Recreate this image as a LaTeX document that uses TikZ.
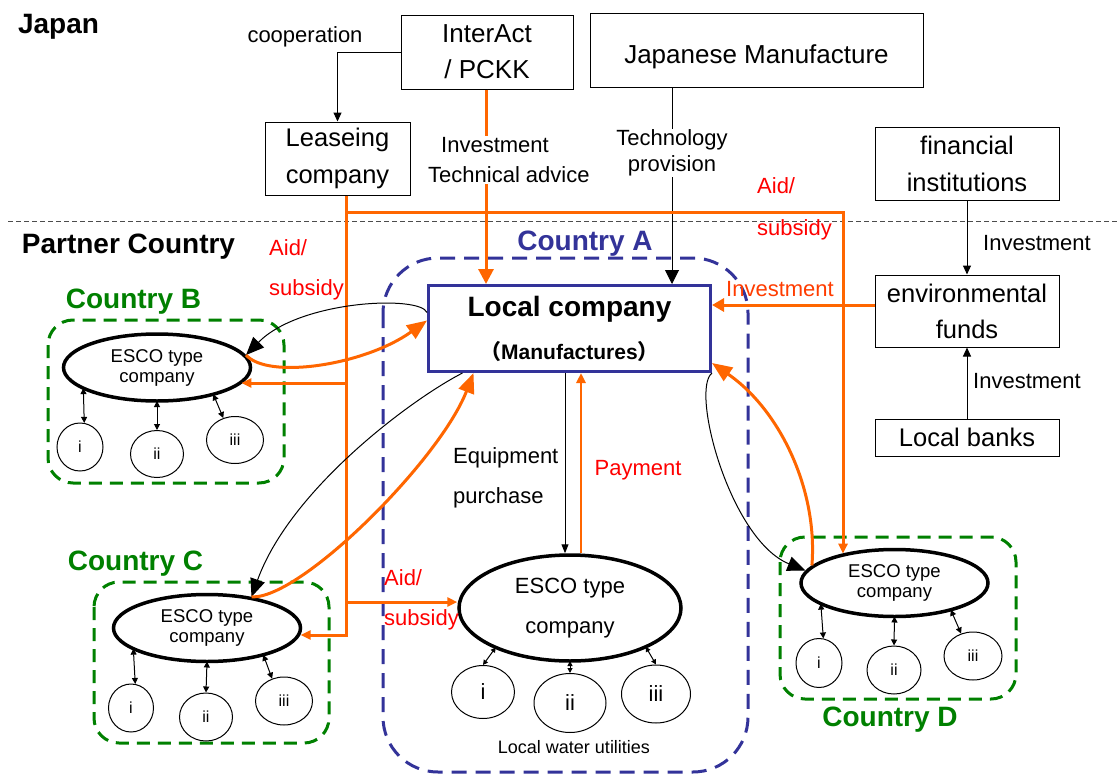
\documentclass[tikz,border=0pt]{standalone}
\usepackage{fontspec}
\setmainfont{Liberation Sans}
\newfontfamily\cjkf{Noto Sans CJK JP}
\usetikzlibrary{arrows.meta,shapes.geometric,calc}
\definecolor{org}{RGB}{255,102,0}
\definecolor{ired}{RGB}{255,0,0}
\definecolor{invc}{RGB}{255,60,0}
\definecolor{cblue}{RGB}{51,51,153}
\definecolor{cgreen}{RGB}{0,128,0}
\newcommand\fz[2]{\fontsize{#1}{#2}\selectfont}
\begin{document}
\begin{tikzpicture}[x=1pt,y=-1pt,
  box/.style={draw, line width=1pt, inner sep=0pt, align=center, font=\fz{25.5}{37}},
  esco/.style={ellipse, draw, line width=3.5pt, inner sep=0pt, align=center, minimum width=187pt, minimum height=67pt, font=\fz{18.5}{20}},
  subc/.style={ellipse, draw, line width=1pt, inner sep=0pt, font=\fz{16}{18}},
  bsubc/.style={subc, font=\fz{22}{24}},
  lbl/.style={inner sep=1pt, font=\fz{22}{26}},
  ttl/.style={inner sep=0pt, font=\fz{28}{30}\bfseries},
  grp/.style={draw=cgreen, line width=3pt, dash pattern=on 13pt off 8pt, rounded corners=25pt},
  kar/.style={line width=1pt, -{Triangle[length=9pt,width=8pt]}},
  dar/.style={line width=1pt, >={Triangle[length=6pt,width=6pt]}, <->},
  sdar/.style={line width=1pt, >={Triangle[length=5pt,width=5pt]}, <->},
  oln/.style={draw=org, line width=3pt, -{Triangle[length=10pt,width=9pt]}},
  bigo/.style={draw=org, line width=3pt, -{Triangle[length=20pt,width=16pt]}},
  bigk/.style={line width=1pt, -{Triangle[length=18pt,width=15pt]}},
]
\useasboundingbox (0,0) rectangle (1117,774);

% containers
\draw[cblue, line width=3pt, dash pattern=on 15pt off 9pt, rounded corners=55pt] (383,258) rectangle (748,772);
\draw[grp] (48,320) rectangle (284,483);
\draw[grp] (94,582) rectangle (329,743);
\draw[grp] (780,537) rectangle (1016,699);
\draw[black!70, line width=1pt, dash pattern=on 5pt off 3pt] (8,221) -- (1117,221);

% titles
\node[ttl] (tjp) at (58.5,27) {Japan};
\node[ttl] (tpc) at (128.5,247) {Partner Country};
\node[ttl, text=cblue] (tca) at (585,244) {Country A};
\node[ttl, text=cgreen] (tcb) at (133.5,302) {Country B};
\node[ttl, text=cgreen] (tcc) at (135.5,564) {Country C};
\node[ttl, text=cgreen] (tcd) at (890,720) {Country D};

% boxes
\node[box, minimum width=172pt, minimum height=74pt, font=\fz{26}{36}] (inter) at (487,52) {InterAct\\/ PCKK};
\node[box, minimum width=333pt, minimum height=74pt, font=\fz{26}{30}] (jm) at (756.5,50) {\raisebox{-13pt}[0pt][0pt]{Japanese Manufacture}};
\node[box, minimum width=145pt, minimum height=73pt] (lease) at (337.5,158.5) {Leaseing\\company};
\node[box, minimum width=184pt, minimum height=73pt] (fin) at (967,163.5) {financial\\institutions};
\node[box, minimum width=184pt, minimum height=72pt, font=\fz{25.5}{36}] (env) at (967,311) {environmental\\funds};
\node[box, minimum width=184pt, minimum height=37pt] (banks) at (967,437.5) {Local banks};
\node[draw=cblue, line width=3pt, minimum width=282pt, minimum height=86pt, inner sep=0pt, align=center, font=\fz{28}{43}\bfseries] (lc) at (569.5,328.5)
  {\fz{28}{43}Local company\\\fz{21}{43}{\cjkf （}Manufactures{\cjkf ）}};

% ESCO companies
\node[esco] (eb) at (157,367.5) {ESCO type\\company};
\node[esco] (ec) at (207,628) {ESCO type\\company};
\node[esco] (ed) at (894.5,583) {ESCO type\\company};
\node[esco, minimum width=222pt, minimum height=106pt, font=\fz{22}{40}] (ea) at (570,608) {ESCO type\\company};

% utilities
\node[subc, minimum width=46pt, minimum height=48pt] (bi) at (80,447) {i};
\node[subc, minimum width=53pt, minimum height=47pt] (bii) at (157,454) {ii};
\node[subc, minimum width=57pt, minimum height=47pt] (biii) at (235,440) {iii};
\node[subc, minimum width=45pt, minimum height=48pt] (ci) at (131,708) {i};
\node[subc, minimum width=53pt, minimum height=48pt] (cii) at (206,717) {ii};
\node[subc, minimum width=57pt, minimum height=48pt] (ciii) at (284,701) {iii};
\node[subc, minimum width=46pt, minimum height=49pt] (di) at (819,663) {i};
\node[subc, minimum width=54pt, minimum height=48pt] (dii) at (894,670) {ii};
\node[subc, minimum width=58pt, minimum height=48pt] (diii) at (973,656) {iii};
\node[bsubc, minimum width=63pt, minimum height=53pt] (ai) at (483,692) {i};
\node[bsubc, minimum width=72pt, minimum height=59pt] (aii) at (570,703) {ii};
\node[bsubc, minimum width=69pt, minimum height=58pt] (aiii) at (656,694) {iii};
\node[lbl, font=\fz{18}{20}] (lwu) at (574,747) {Local water utilities};

% utility connectors
\draw[dar] ($(eb)+(142:93.5 and 33.5)$) -- (bi.80);
\draw[dar] ($(eb)+(90:93.5 and 33.5)$) -- (bii.north);
\draw[dar] ($(eb)+(53:93.5 and 33.5)$) -- (biii.118);
\draw[dar] ($(ec)+(142:93.5 and 33.5)$) -- (ci.80);
\draw[dar] ($(ec)+(90:93.5 and 33.5)$) -- (cii.north);
\draw[dar] ($(ec)+(53:93.5 and 33.5)$) -- (ciii.118);
\draw[dar] ($(ed)+(142:93.5 and 33.5)$) -- (di.80);
\draw[dar] ($(ed)+(90:93.5 and 33.5)$) -- (dii.north);
\draw[dar] ($(ed)+(53:93.5 and 33.5)$) -- (diii.118);
\draw[sdar] ($(ea)+(132:111 and 53)$) -- (ai.north);
\draw[sdar] ($(ea)+(90:111 and 53)$) -- (aii.north);
\draw[sdar] ($(ea)+(47:111 and 53)$) -- (aiii.north);

% Japan side connectors
\draw[kar] (inter.west) -| (lease.north);
\node[lbl] (coop) at (305,37) {cooperation};
\draw[draw=org, line width=3pt, -{Triangle[length=15pt,width=15pt]}] (inter.south -| 486,0) -- (lc.north -| 486,0);
\node[lbl, fill=white, align=left, anchor=west, font=\fz{22}{30}] (ita) at (427,160) {\hspace*{13pt}Investment\\Technical advice};
\draw[line width=1pt, -{Triangle[length=14pt,width=14pt]}] (jm.south -| 672,0) -- (lc.north -| 672,0);
\node[lbl, fill=white, align=center] (tp) at (672,153) {Technology\\provision};

% financial
\draw[kar] (fin.south) -- (env.north);
\node[lbl] (inv2) at (1037,243) {Investment};
\draw[kar] (banks.north) -- (env.south);
\node[lbl] (inv3) at (1027,381) {Investment};
\draw[draw=org, line width=3pt, -{Triangle[length=12pt,width=13pt]}] (env.west |- 0,305) -- (lc.east |- 0,305);
\node[lbl, text=invc] (inv1) at (780,289) {Investment};

% aid / subsidy trunk
\coordinate (tk) at ([xshift=8.5pt]lease.south);
\draw[oln] (tk) -- (tk |- 0,635) -- (0,635 -| ec.-4);
\draw[oln] (tk |- 0,383) -- (0,383 -| eb.-11);
\draw[oln] (tk |- 0,602) -- (ea.west |- 0,602);
\draw[oln] (tk |- 0,212) -- (843,212) -- (843,212 |- ed.151);
\node[lbl, text=ired, align=left, anchor=west, font=\fz{22}{40}] (as1) at (268,270) {Aid/\\subsidy};
\node[lbl, text=ired, align=left, anchor=west, font=\fz{22}{42}] (as2) at (756,209) {Aid/\\subsidy};
\node[lbl, text=ired, align=left, anchor=west, font=\fz{22}{40}] (as3) at (383,600) {Aid/\\subsidy};

% local company <-> central ESCO
\draw[line width=1pt, -{Triangle[length=9pt,width=7pt]}] ([xshift=-4.5pt]lc.south) -- ([xshift=-4.5pt]lc.south |- ea.north);
\draw[draw=org, line width=2.5pt, -{Triangle[length=10pt,width=9pt]}] (581,0 |- ea.north) -- (581,0 |- lc.south);
\node[lbl, align=left, anchor=west, font=\fz{22}{40}] (eqp) at (452,478) {Equipment\\purchase};
\node[lbl, text=ired] (pay) at (638,470) {Payment};

% curved flows
\draw[bigk] ([yshift=16pt]lc.west) .. controls (420,295) and (300,300) .. (eb.8);
\draw[bigo] (eb.8) .. controls (268,380) and (365,365) .. ([yshift=8pt]lc.west);
\draw[bigk] ([xshift=-107pt]lc.south) .. controls (410,400) and (290,490) .. (ec.35);
\draw[bigo] (ec.35) .. controls (300,600) and (440,460) .. ([xshift=-96pt]lc.south);
\draw[bigk] (lc.south east) .. controls (690,390) and (730,540) .. (ed.172);
\draw[bigo] (ed.168) .. controls (818,490) and (780,410) .. ([yshift=10pt]lc.south east);
\end{tikzpicture}
\end{document}
